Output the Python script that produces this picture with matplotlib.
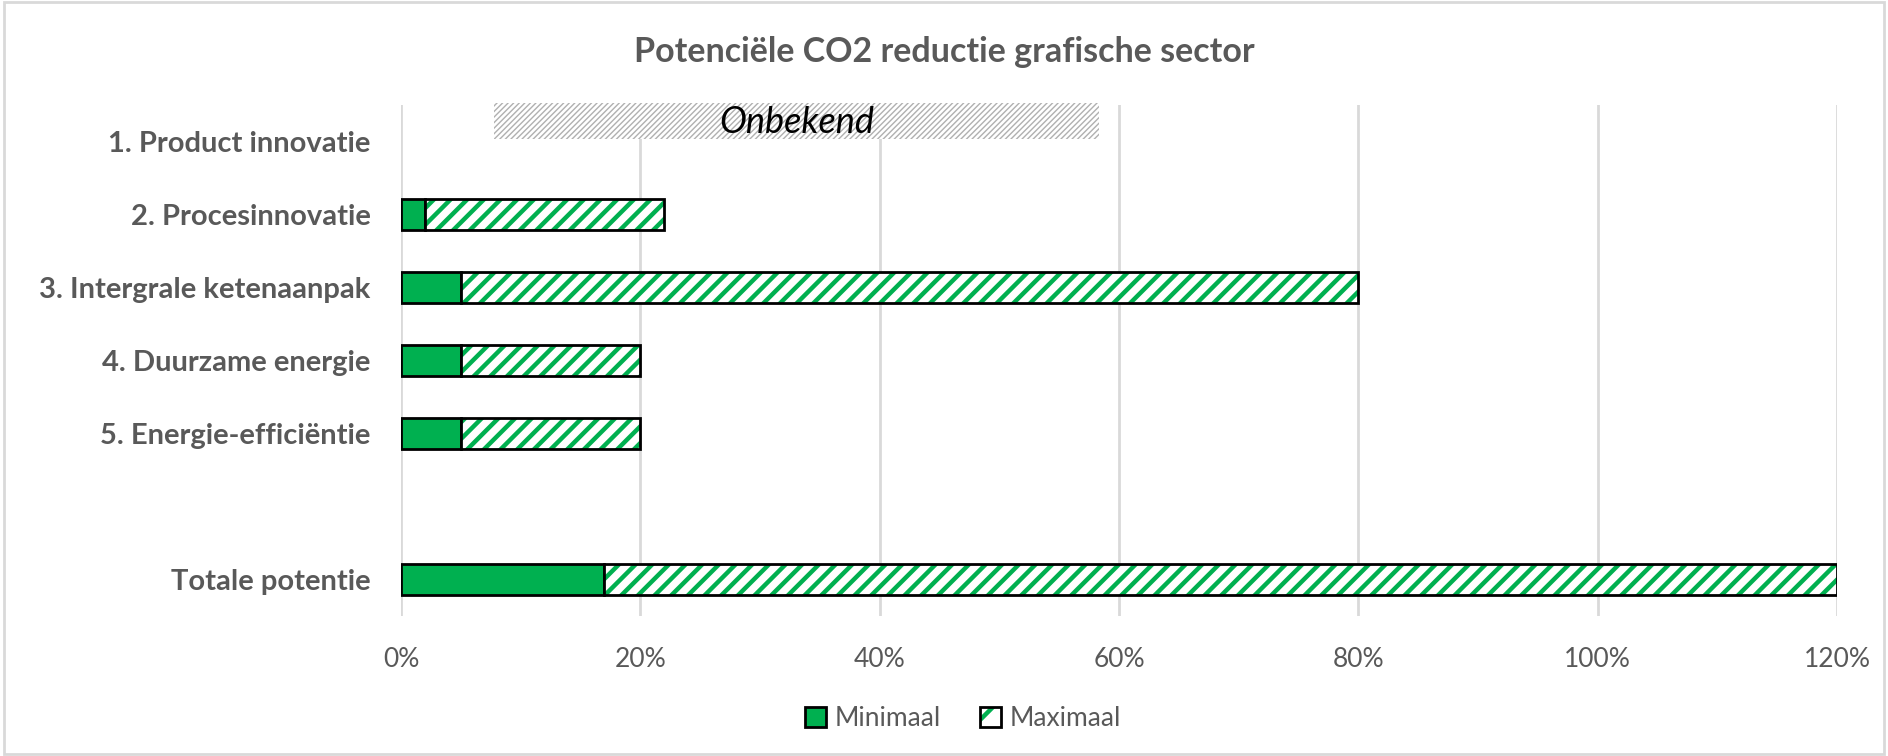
import numpy as np
import matplotlib
matplotlib.use("Agg")
import matplotlib.pyplot as plt
from matplotlib.patches import Rectangle, Patch
from matplotlib.colors import to_rgba

# ---- data ----
categories = ["1. Product innovatie", "2. Procesinnovatie", "3. Intergrale ketenaanpak",
              "4. Duurzame energie", "5. Energie-efficiëntie", "", "Totale potentie"]
minimaal = [np.nan, 2, 5, 5, 5, np.nan, 17]          # %
maximaal_extra = [np.nan, 20, 75, 15, 15, np.nan, 103]  # % on top of minimaal
onbekend_range = (7.8, 58.3)                          # % span of the "Onbekend" box
xticks = [0, 20, 40, 60, 80, 100, 120]
title = "Potenciële CO2 reductie grafische sector"

GREEN = "#00B050"
GRAY = "#595959"
FONT = "Lato"

plt.rcParams["font.family"] = [FONT, "DejaVu Sans"]
plt.rcParams["hatch.linewidth"] = 3.2

fig = plt.figure(figsize=(18.88, 7.56), dpi=100)
ax = fig.add_axes([0.2124, 0.185, 0.7606, 0.676])

y = np.arange(len(categories))
mn = np.array(minimaal, dtype=float)
mx = np.array(maximaal_extra, dtype=float)
valid = ~np.isnan(mn)
h = 0.43

ax.barh(y[valid], mn[valid], height=h, color=GREEN, edgecolor="black", linewidth=2, zorder=3)
bars = ax.barh(y[valid], mx[valid], left=mn[valid], height=h, color="white", edgecolor="black",
               hatch="//", linewidth=2, zorder=3)
for b in bars:
    b._hatch_color = to_rgba(GREEN)

handles = [Patch(facecolor=GREEN, edgecolor="black", linewidth=2, label="Minimaal"),
           Patch(facecolor="white", edgecolor="black", hatch="/", linewidth=2, label="Maximaal")]
leg = fig.legend(handles=handles, loc="center", bbox_to_anchor=(0.51, 0.049), ncol=2,
                 frameon=False, fontsize=19, handlelength=0.8, handleheight=0.8,
                 handletextpad=0.3, columnspacing=1.5)
for t in leg.get_texts():
    t.set_color(GRAY)
leg.legend_handles[1]._hatch_color = to_rgba(GREEN)

# Onbekend box (thin, dense gray hatch)
plt.rcParams["hatch.linewidth"] = 1.0
rect = Rectangle((onbekend_range[0], -0.53), onbekend_range[1] - onbekend_range[0], 0.50,
                 facecolor="white", edgecolor="#b0b0b0", hatch="//////", linewidth=0,
                 clip_on=False, zorder=5)
if hasattr(rect, "set_hatch_linewidth"):
    rect.set_hatch_linewidth(1.0)
ax.add_patch(rect)
ax.text(sum(onbekend_range) / 2, -0.26, "Onbekend", ha="center", va="center",
        fontsize=26, style="italic", color="black", zorder=6, clip_on=False)

ax.set_xlim(0, 120)
ax.set_ylim(len(categories) - 0.5, -0.5)
ax.set_xticks(xticks)
ax.set_xticklabels([f"{v}%" for v in xticks])
ax.set_yticks(y)
ax.set_yticklabels(categories, fontweight="bold")
ax.tick_params(axis="x", length=0, pad=22, labelsize=19, labelcolor=GRAY)
ax.tick_params(axis="y", length=0, pad=22, labelsize=21, labelcolor=GRAY)
ax.grid(axis="x", color="#d9d9d9", linewidth=2, zorder=0)
ax.set_axisbelow(True)
for s in ax.spines.values():
    s.set_visible(False)

fig.text(0.5, 0.931, title, ha="center", va="center", fontsize=24.5, fontweight="bold", color=GRAY)

fig.patches.append(Rectangle((0.002, 0.003), 0.996, 0.994, transform=fig.transFigure,
                             fill=False, edgecolor="#d9d9d9", linewidth=2))

fig.savefig("out.png", dpi=100)
